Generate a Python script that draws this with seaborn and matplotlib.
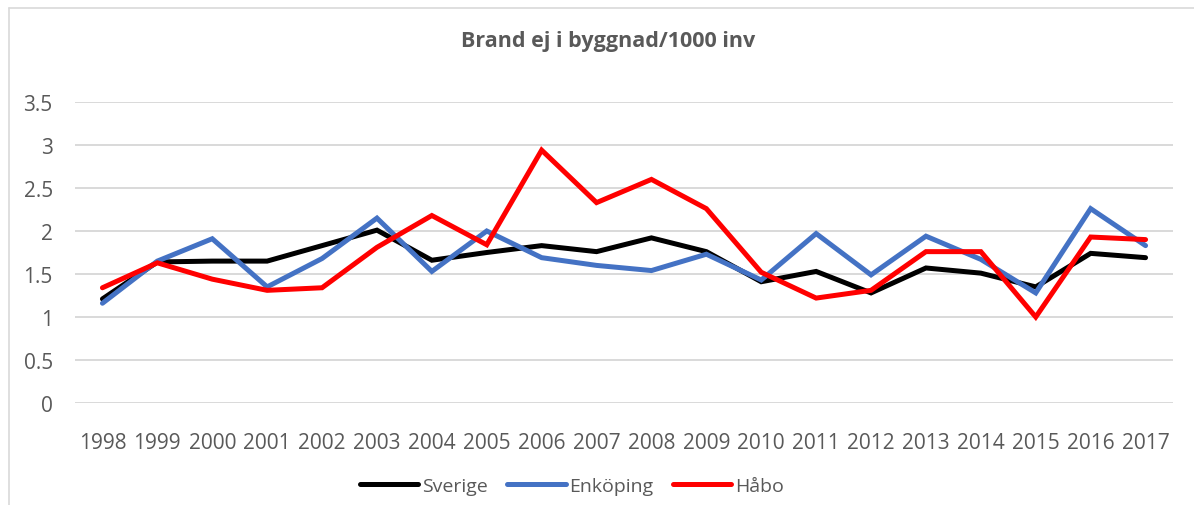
import matplotlib
matplotlib.use("Agg")
import matplotlib.pyplot as plt
import seaborn as sns
import pandas as pd
from matplotlib.lines import Line2D

years = [str(y) for y in range(1998, 2018)]
sverige = [1.21, 1.64, 1.65, 1.65, 1.83, 2.01, 1.66, 1.75, 1.83, 1.76,
           1.92, 1.76, 1.41, 1.53, 1.28, 1.57, 1.51, 1.35, 1.74, 1.69]
enkoping = [1.16, 1.65, 1.91, 1.35, 1.68, 2.15, 1.53, 2.00, 1.69, 1.60,
            1.54, 1.73, 1.43, 1.97, 1.49, 1.94, 1.67, 1.28, 2.26, 1.83]
habo = [1.34, 1.63, 1.44, 1.31, 1.34, 1.81, 2.18, 1.84, 2.94, 2.33,
        2.60, 2.26, 1.52, 1.22, 1.31, 1.76, 1.76, 1.00, 1.93, 1.90]
series_names = ["Sverige", "Enköping", "Håbo"]
yticks = [0, 0.5, 1, 1.5, 2, 2.5, 3, 3.5]
ytick_labels = ["0", "0.5", "1", "1.5", "2", "2.5", "3", "3.5"]
title = "Brand ej i byggnad/1000 inv"

df = pd.DataFrame({
    "År": years * 3,
    "Värde": sverige + enkoping + habo,
    "Serie": [series_names[0]] * 20 + [series_names[1]] * 20 + [series_names[2]] * 20,
})

sns.set_theme(style="white")
plt.rcParams["font.family"] = ["Open Sans", "DejaVu Sans"]
grey = "#595959"
palette = {"Sverige": "#000000", "Enköping": "#4472C4", "Håbo": "#FF0000"}

fig = plt.figure(figsize=(11.94, 5.06), dpi=100)
ax = fig.add_axes([75 / 1194, 1 - 404 / 506, (1173 - 75) / 1194, (404 - 103) / 506])

sns.lineplot(data=df, x="År", y="Värde", hue="Serie", palette=palette,
             linewidth=3.6, ax=ax, sort=False, legend=False,
             solid_capstyle="round", solid_joinstyle="miter")

ax.set_xlim(-0.5, len(years) - 0.5)
ax.set_ylim(0, 3.5)
ax.set_yticks(yticks)
ax.set_yticklabels(ytick_labels)
ax.yaxis.grid(True, color="#d9d9d9", linewidth=1.4)
ax.xaxis.grid(False)
ax.set_axisbelow(True)
for s in ax.spines.values():
    s.set_visible(False)
ax.tick_params(axis="y", length=0, pad=16, labelsize=15, labelcolor=grey)
ax.tick_params(axis="x", length=0, pad=21, labelsize=15, labelcolor=grey)
ax.set_xlabel("")
ax.set_ylabel("")

fig.text(608 / 1194, 1 - 42 / 506, title, ha="center", va="center",
         fontsize=15.5, fontweight="bold", color=grey)

handles = [Line2D([0], [0], color=palette[n], linewidth=3.6, solid_capstyle="round")
           for n in series_names]
leg = fig.legend(handles, series_names, loc="center", bbox_to_anchor=(572 / 1194, 1 - 487 / 506),
                 ncol=3, frameon=False, fontsize=14, handlelength=3.0,
                 handletextpad=0.2, columnspacing=1.0, labelcolor=grey)

# chart border (top and left edges visible)
fig.add_artist(Line2D([9 / 1194, 1.0], [1 - 9 / 506, 1 - 9 / 506], color="#d9d9d9", linewidth=1.2,
                      transform=fig.transFigure))
fig.add_artist(Line2D([9 / 1194, 9 / 1194], [1 - 9 / 506, 0.0], color="#d9d9d9", linewidth=1.2,
                      transform=fig.transFigure))

fig.savefig("out.png", dpi=100)
